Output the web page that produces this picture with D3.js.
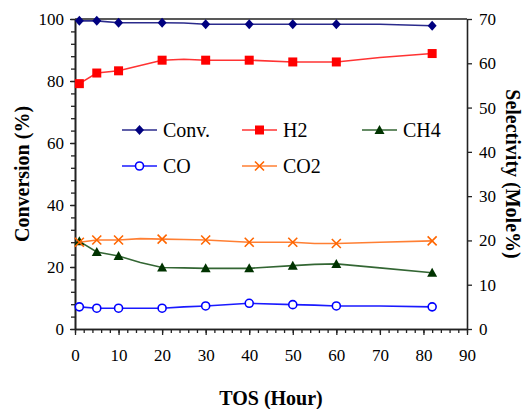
<!DOCTYPE html>
<head>
  <meta charset="utf-8">
  <script src="https://d3js.org/d3.v7.min.js"></script>
  <style>
    body { margin:0; background:#fff; }
    svg text { font-family: "Times New Roman", "Liberation Serif", Times, "DejaVu Serif", serif !important; }
  </style>
</head>

<body>
  <script>
    var width = 531,
        height = 409;

    // time on stream, every point the lines pass through
    var hours = [1, 5, 10, 15, 20, 25, 30, 40, 50, 55, 60, 70, 82];
    // the points that carry a marker
    var markerHours = [1, 5, 10, 20, 30, 40, 50, 60, 82];

    var conv = [99.4, 99.4, 98.8, 98.8, 98.8, 98.7, 98.3, 98.3, 98.3, 98.3, 98.3, 98.3, 97.8];
    var h2   = [55.4, 57.8, 58.3, 59.5, 60.7, 60.9, 60.7, 60.7, 60.3, 60.3, 60.3, 61.3, 62.2];
    var ch4  = [19.8, 17.4, 16.5, 15.0, 13.9, 13.8, 13.7, 13.7, 14.3, 14.6, 14.7, 13.8, 12.7];
    var co   = [5.0, 4.7, 4.7, 4.7, 4.7, 5.0, 5.2, 5.8, 5.5, 5.4, 5.2, 5.2, 5.0];
    var co2  = [19.6, 20.1, 20.1, 20.4, 20.3, 20.2, 20.1, 19.6, 19.6, 19.3, 19.3, 19.6, 19.9];

    var xTicks = [0, 10, 20, 30, 40, 50, 60, 70, 80, 90];
    var leftTicks = [0, 20, 40, 60, 80, 100];
    var rightTicks = [0, 10, 20, 30, 40, 50, 60, 70];

    var series = [
      {name: "Conv.", values: conv, axis: "left",  color: "#000080", line: "#2b2b8c", marker: "diamond"},
      {name: "H2",    values: h2,   axis: "right", color: "#ff0000", line: "#ff3333", marker: "square"},
      {name: "CH4",   values: ch4,  axis: "right", color: "#003300", line: "#336633", marker: "triangle"},
      {name: "CO",    values: co,   axis: "right", color: "#0000ff", line: "#1a1aff", marker: "circle"},
      {name: "CO2",   values: co2,  axis: "right", color: "#ff6600", line: "#ff7f33", marker: "cross"}
    ];

    var svg = d3.select("body").append("svg")
      .attr("width", width)
      .attr("height", height);

    var x = d3.scaleLinear().domain([0, 90]).range([75, 467]);
    var yL = d3.scaleLinear().domain([0, 100]).range([329, 19]);
    var yR = d3.scaleLinear().domain([0, 70]).range([329, 19]);

    var axisColor = "#222";

    // minor ticks first, majors on top
    svg.append('g')
      .attr('transform', 'translate(75,0)')
      .call(d3.axisLeft(yL).tickValues(d3.range(0, 101, 4)).tickSize(4).tickSizeOuter(0).tickFormat(""));
    svg.append('g')
      .attr('class', 'yaxis')
      .attr('transform', 'translate(75,0)')
      .call(d3.axisLeft(yL).tickValues(leftTicks).tickSize(5).tickSizeOuter(0).tickPadding(6));

    svg.append('g')
      .attr('transform', 'translate(0,329)')
      .call(d3.axisBottom(x).tickValues(d3.range(0, 91, 2)).tickSize(4).tickSizeOuter(0).tickFormat(""));
    svg.append('g')
      .attr('class', 'xaxis')
      .attr('transform', 'translate(0,329)')
      .call(d3.axisBottom(x).tickValues(xTicks).tickSize(6).tickSizeOuter(0).tickPadding(14));

    svg.append('g')
      .attr('class', 'yaxis2')
      .attr('transform', 'translate(467,0)')
      .call(d3.axisRight(yR).tickValues(rightTicks).tickSize(5).tickSizeOuter(0).tickPadding(7));

    // top frame
    svg.append('line')
      .attr('x1', 75).attr('x2', 467)
      .attr('y1', 19).attr('y2', 19)
      .attr('stroke', axisColor).attr('stroke-width', 1.5);

    svg.selectAll('g').attr('font-family', null);
    svg.selectAll('.domain, .tick line')
      .attr('stroke', axisColor)
      .attr('stroke-width', 1.3);
    svg.selectAll('.domain').attr('stroke-width', 1.6);
    svg.selectAll('.tick text')
      .attr('fill', '#000')
      .style('font-size', '17px');

    // axis titles
    function title(t, tr) {
      svg.append('text')
        .attr('transform', tr)
        .attr('text-anchor', 'middle')
        .attr('dominant-baseline', 'central')
        .style('font-size', '20px').style('font-weight', 'bold')
        .text(t);
    }
    title('Conversion (%)', 'translate(22,174) rotate(-90)');
    title('Selectivity (Mole%)', 'translate(513,174) rotate(90)');
    title('TOS (Hour)', 'translate(271,398)');

    function drawMarker(g, s) {
      if (s.marker === "diamond") {
        g.append('path').attr('d', 'M0,-5L4.5,0L0,5L-4.5,0Z').attr('fill', s.color);
      } else if (s.marker === "square") {
        g.append('rect').attr('x', -4.5).attr('y', -4.5).attr('width', 9).attr('height', 9).attr('fill', s.color);
      } else if (s.marker === "triangle") {
        g.append('path').attr('d', 'M0,-5L5,4L-5,4Z').attr('fill', s.color);
      } else if (s.marker === "circle") {
        g.append('circle').attr('r', 4).attr('fill', '#fff').attr('stroke', s.color).attr('stroke-width', 1.6);
      } else {
        g.append('path').attr('d', 'M-4.5,-4.5L4.5,4.5M-4.5,4.5L4.5,-4.5')
          .attr('stroke', s.color).attr('stroke-width', 1.6).attr('fill', 'none');
      }
    }

    var chart = svg.append('g');

    series.forEach(function(s) {
      var yS = s.axis === "left" ? yL : yR;
      var pts = hours.map(function(h, i) { return [h, s.values[i]]; });
      var line = d3.line()
        .x(function(d) { return x(d[0]); })
        .y(function(d) { return yS(d[1]); });

      chart.append('path')
        .datum(pts)
        .attr('d', line)
        .attr('fill', 'none')
        .attr('stroke', s.line)
        .attr('stroke-width', 1.6);

      pts.filter(function(d) { return markerHours.indexOf(d[0]) >= 0; })
        .forEach(function(d) {
          var g = chart.append('g')
            .attr('transform', 'translate(' + x(d[0]) + ',' + yS(d[1]) + ')');
          drawMarker(g, s);
        });
    });

    // legend, 3 columns by 2 rows
    var legendX = [122, 242, 362],
        legendY = [130, 166];
    var legend = svg.append('g');
    series.forEach(function(s, i) {
      var lx = legendX[i % 3], ly = legendY[Math.floor(i / 3)];
      legend.append('line')
        .attr('x1', lx).attr('x2', lx + 35)
        .attr('y1', ly).attr('y2', ly)
        .attr('stroke', s.line).attr('stroke-width', 1.6);
      var g = legend.append('g').attr('transform', 'translate(' + (lx + 17.5) + ',' + ly + ')');
      drawMarker(g, s);
      legend.append('text')
        .attr('x', lx + 41).attr('y', ly)
        .attr('dominant-baseline', 'central')
        .style('font-size', '20px')
        .text(s.name);
    });
  </script>
</body>
